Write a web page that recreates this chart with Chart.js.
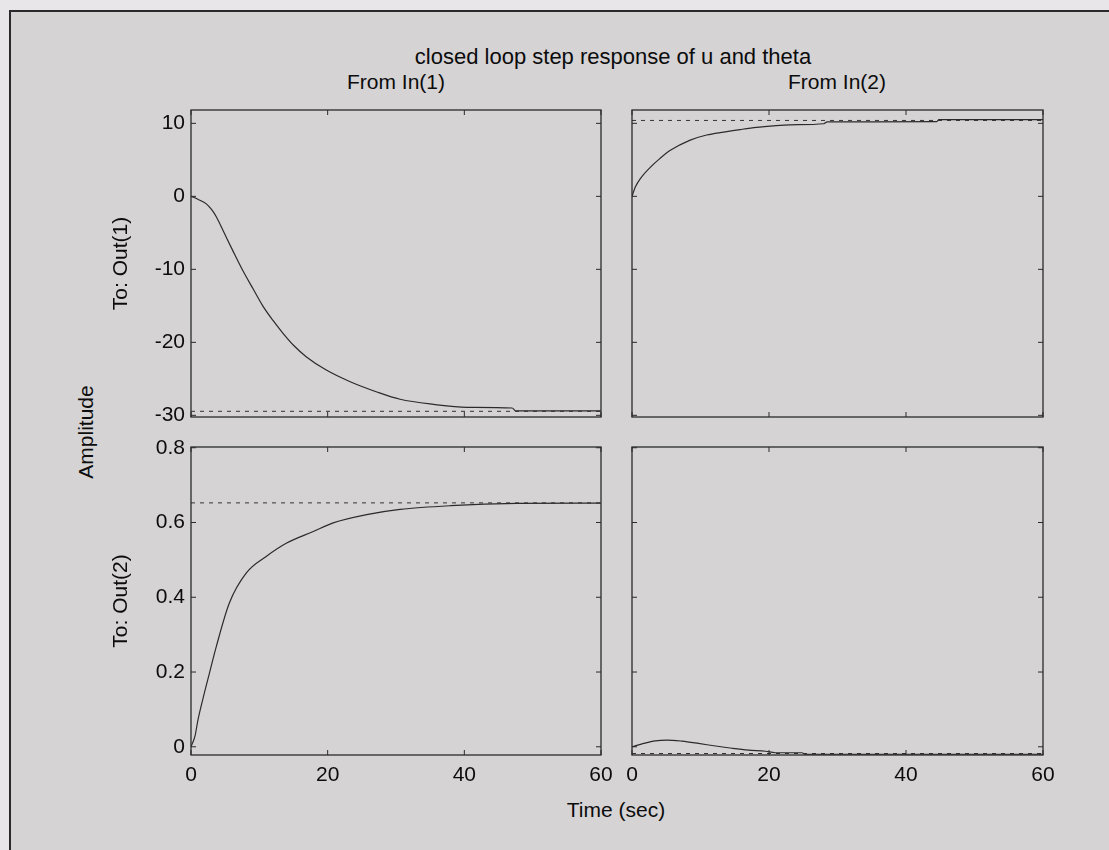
<!DOCTYPE html>
<html>
<head>
<meta charset="utf-8">
<script src="https://cdn.jsdelivr.net/npm/chart.js@4.4.1/dist/chart.umd.min.js"></script>
<style>
  html, body { margin: 0; padding: 0; }
  body { width: 1109px; height: 850px; background: #e8e6e8; position: relative; overflow: hidden;
         font-family: "Liberation Sans", Arial, sans-serif; }
  #frame { position: absolute; left: 9px; top: 10px; width: 1100px; height: 840px; background: #d6d3d5;
           border-left: 2px solid #2a2a2a; border-top: 2px solid #2a2a2a; }
  canvas { position: absolute; }
  .lbl { position: absolute; color: #0c0c0c; font-size: 21px; white-space: nowrap; transform: translate(-50%, -50%); }
  .rot { transform: translate(-50%, -50%) rotate(-90deg); }
</style>
</head>
<body>
<div id="frame"></div>
<div class="lbl" style="left:613px; top:57px; font-size:22px;">closed loop step response of u and theta</div>
<div class="lbl" style="left:396px; top:82px;">From In(1)</div>
<div class="lbl" style="left:837px; top:82px;">From In(2)</div>
<div class="lbl rot" style="left:86px; top:432px;">Amplitude</div>
<div class="lbl" style="left:616px; top:810px;">Time (sec)</div>
<canvas id="c11"></canvas>
<canvas id="c12"></canvas>
<canvas id="c21"></canvas>
<canvas id="c22"></canvas>
<script>
// step responses (time in sec)
const tOut1In1 = [0, 1, 2.2, 3, 3.7, 4.9, 6.1, 7.6, 9.1, 10.5, 12, 13.5, 15, 16.9, 19.8, 23.3, 27.2, 30.6, 35.5, 40.4, 47, 47.5, 60];
const yOut1In1 = [0, -0.4, -1.0, -1.8, -2.8, -5.1, -7.4, -10.2, -12.7, -15.0, -17.0, -18.8, -20.4, -22.0, -23.8, -25.4, -26.8, -27.8, -28.5, -28.9, -29.0, -29.4, -29.4];

const tOut1In2 = [0, 0.5, 1.2, 2.7, 4.1, 5.6, 8.5, 10.9, 13.4, 15.8, 18.2, 23.1, 28, 28.5, 44.5, 44.8, 60];
const yOut1In2 = [0, 1.3, 2.4, 4.0, 5.2, 6.3, 7.7, 8.4, 8.8, 9.15, 9.45, 9.8, 9.95, 10.2, 10.25, 10.5, 10.5];

const tOut2In1 = [0, 0.6, 1.0, 1.7, 2.7, 3.7, 5.6, 8.1, 11, 14, 17.9, 20.8, 25.7, 30.6, 38, 47.7, 60];
const yOut2In1 = [0, 0.03, 0.07, 0.125, 0.197, 0.268, 0.384, 0.465, 0.509, 0.545, 0.576, 0.599, 0.621, 0.635, 0.645, 0.651, 0.652];

const tOut2In2 = [0, 1.7, 3.4, 5.1, 7.3, 9.7, 12.2, 14.6, 17, 19.5, 20.9, 24.8, 25.3, 60];
const yOut2In2 = [0, 0.009, 0.016, 0.018, 0.015, 0.009, 0.002, -0.004, -0.009, -0.012, -0.016, -0.016, -0.02, -0.02];

// steady state values (dotted lines)
const finalOut1In1 = -29.45;
const finalOut1In2 = 10.4;
const finalOut2In1 = 0.6525;
const finalOut2In2 = -0.018;

const timeRange = [0, 60];
const timeTicks = [0, 20, 40, 60];
const out1Range = [-30.23, 11.83];
const out2Range = [-0.022, 0.802];

function series(ts, vs) {
    return ts.map((t, i) => ({ x: t, y: vs[i] }));
}

// box round the axes with inward ticks, like matlab
const boxTicks = {
    id: 'boxTicks',
    afterDatasetsDraw(chart) {
        const { ctx, chartArea: a, scales: { x, y } } = chart;
        ctx.save();
        ctx.strokeStyle = '#2a2a2a';
        ctx.lineWidth = 1.3;
        ctx.strokeRect(a.left, a.top, a.right - a.left, a.bottom - a.top);
        ctx.lineWidth = 1;
        ctx.beginPath();
        x.ticks.forEach(t => {
            const px = x.getPixelForValue(t.value);
            ctx.moveTo(px, a.bottom); ctx.lineTo(px, a.bottom - 5);
            ctx.moveTo(px, a.top); ctx.lineTo(px, a.top + 5);
        });
        y.ticks.forEach(t => {
            const py = y.getPixelForValue(t.value);
            ctx.moveTo(a.left, py); ctx.lineTo(a.left + 5, py);
            ctx.moveTo(a.right, py); ctx.lineTo(a.right - 5, py);
        });
        ctx.stroke();
        ctx.restore();
    }
};

function makeChart(id, box, opt) {
    const yW = opt.yTitle ? 91 : 20;
    const cv = document.getElementById(id);
    cv.width = (box.r - box.l) + yW + 30;
    cv.height = (box.b - box.t) + 30 + 40;
    cv.style.left = (box.l - yW) + 'px';
    cv.style.top = (box.t - 30) + 'px';

    const tickFont = { family: '"Liberation Sans", Arial, sans-serif', size: 21 };
    return new Chart(cv.getContext('2d'), {
        type: 'line',
        data: {
            datasets: [{
                data: series(opt.t, opt.y),
                borderColor: '#2b2b2b',
                borderWidth: 1.2,
                pointRadius: 0,
                cubicInterpolationMode: 'monotone',
                fill: false
            }, {
                data: series(timeRange, [opt.final, opt.final]),
                borderColor: '#333',
                borderWidth: 1,
                borderDash: [4, 5],
                pointRadius: 0,
                fill: false
            }]
        },
        options: {
            responsive: false,
            animation: false,
            devicePixelRatio: 1,
            layout: { padding: { top: 30, right: 30, left: 0, bottom: 0 } },
            plugins: { legend: { display: false }, tooltip: { enabled: false } },
            scales: {
                x: {
                    type: 'linear',
                    min: timeRange[0], max: timeRange[1],
                    afterBuildTicks: s => { s.ticks = timeTicks.map(v => ({ value: v })); },
                    afterFit: s => { s.height = 40; },
                    grid: { display: false, drawTicks: false },
                    border: { display: false },
                    ticks: { display: opt.xLabels, font: tickFont, color: '#0c0c0c', padding: 8 }
                },
                y: {
                    type: 'linear',
                    min: opt.range[0], max: opt.range[1],
                    afterFit: s => { s.width = yW; },
                    grid: { display: false, drawTicks: false },
                    border: { display: false },
                    ticks: { display: !!opt.yTitle, stepSize: opt.step, includeBounds: false,
                             font: tickFont, color: '#0c0c0c', padding: 6 },
                    title: { display: !!opt.yTitle, text: opt.yTitle, color: '#0c0c0c',
                             font: tickFont, padding: { top: 9, bottom: 0 } }
                }
            }
        },
        plugins: [boxTicks]
    });
}

const topRow = { t: 110, b: 417 };
const botRow = { t: 447, b: 755 };
const leftCol = { l: 191, r: 601 };
const rightCol = { l: 632, r: 1043 };

makeChart('c11', { ...leftCol, ...topRow }, { t: tOut1In1, y: yOut1In1, final: finalOut1In1,
    range: out1Range, step: 10, yTitle: 'To: Out(1)', xLabels: false });
makeChart('c12', { ...rightCol, ...topRow }, { t: tOut1In2, y: yOut1In2, final: finalOut1In2,
    range: out1Range, step: 10, yTitle: null, xLabels: false });
makeChart('c21', { ...leftCol, ...botRow }, { t: tOut2In1, y: yOut2In1, final: finalOut2In1,
    range: out2Range, step: 0.2, yTitle: 'To: Out(2)', xLabels: true });
makeChart('c22', { ...rightCol, ...botRow }, { t: tOut2In2, y: yOut2In2, final: finalOut2In2,
    range: out2Range, step: 0.2, yTitle: null, xLabels: true });
</script>
</body>
</html>
